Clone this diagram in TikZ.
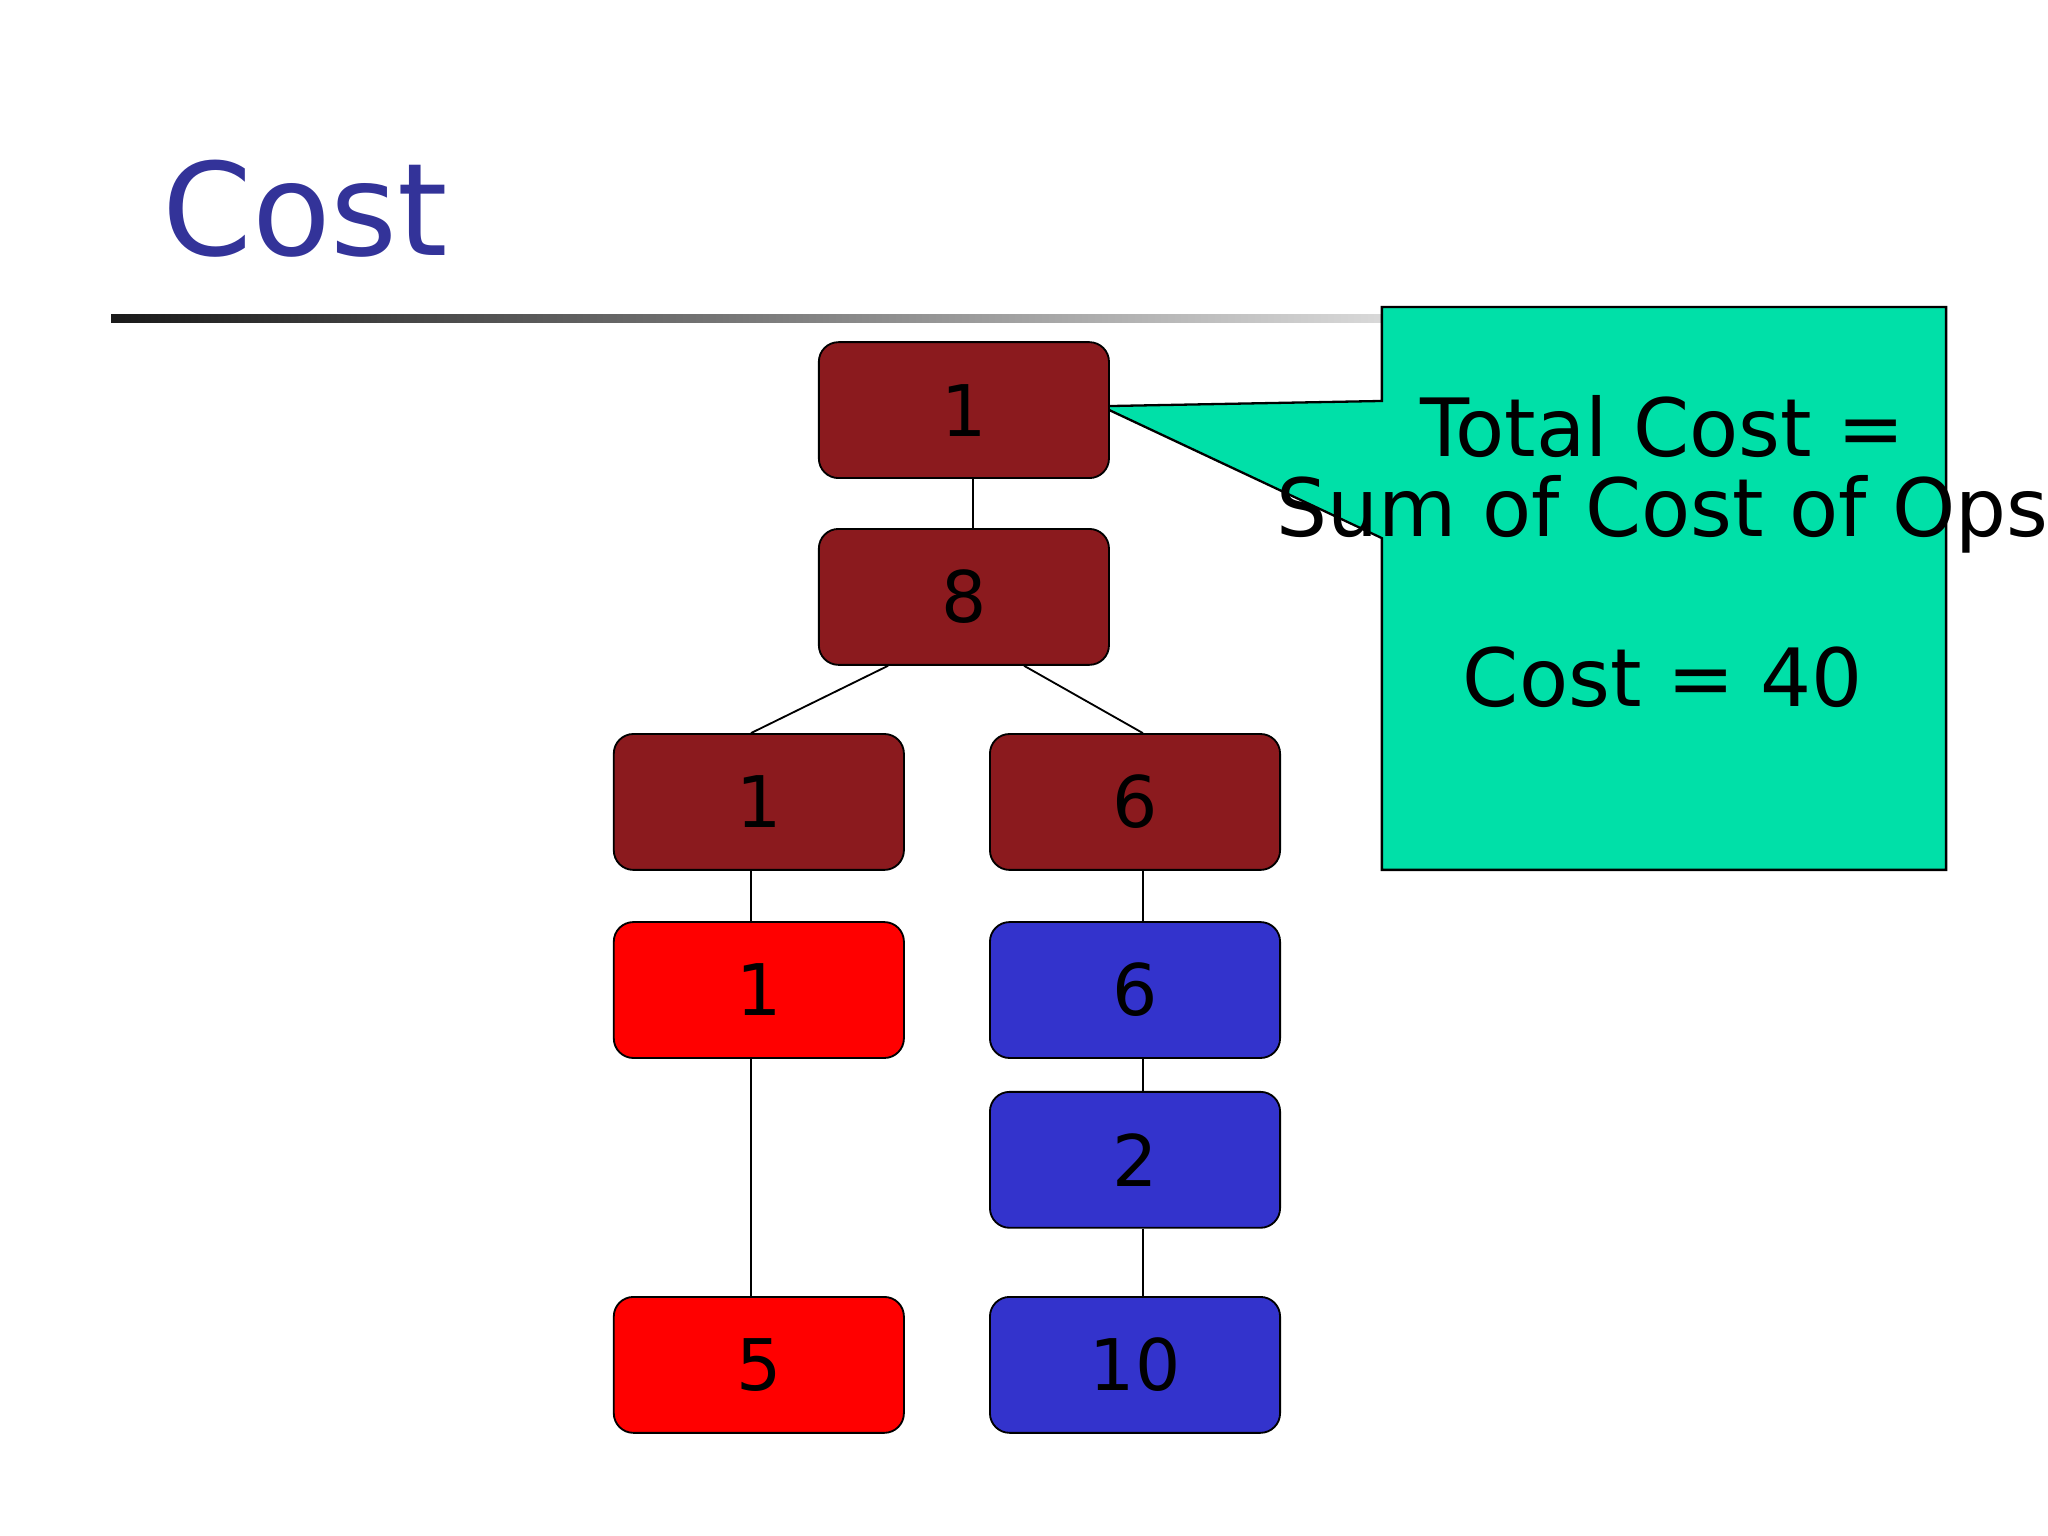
\documentclass[tikz,border=0pt]{standalone}
\usepackage{fontspec}
\setmainfont{DejaVu Sans}
\definecolor{maroon}{HTML}{8B1A1E}
\definecolor{bred}{HTML}{FF0000}
\definecolor{bblue}{HTML}{3333CC}
\definecolor{titleblue}{HTML}{333399}
\definecolor{callout}{HTML}{00E0A8}
\begin{document}
\begin{tikzpicture}[x=0.01cm,y=-0.01cm,
  box/.style={draw=black,rounded corners=0.15cm,minimum width=2.22cm,minimum height=1.04cm,inner sep=0pt,font=\fontsize{15.5}{18}\selectfont,text=black},
  mbox/.style={box,fill=maroon},
  rbox/.style={box,fill=bred},
  bbox/.style={box,fill=bblue},
  conn/.style={draw=black,line width=0.4pt}]
\useasboundingbox (0,0) rectangle (1568,1176);
\node[anchor=west,text=titleblue,font=\fontsize{28}{32}\selectfont] (title) at (112,160) {Cost};
\shade[left color=black!90,right color=white!85!black] (85,241) rectangle (1058,247);
% callout
\draw[fill=callout,draw=black,line width=0.5pt] (1058,235) -- (1490,235) -- (1490,666) -- (1058,666) -- (1058,412) -- (843,311) -- (1058,307) -- cycle;
\node[align=center,font=\fontsize{17.5}{17.6}\selectfont] (ctext) at (1273,422) {Total Cost =\\Sum of Cost of Ops\\[1.1em]Cost = 40};
% nodes
\node[mbox] (a) at (738,314) {1};
\node[mbox] (b) at (738,457) {8};
\node[mbox] (c) at (581,614) {1};
\node[mbox] (d) at (869,614) {6};
\node[rbox] (e) at (581,758) {1};
\node[bbox] (f) at (869,758) {6};
\node[bbox] (g) at (869,888) {2};
\node[rbox] (h) at (581,1045) {5};
\node[bbox] (i) at (869,1045) {10};
% connectors
\draw[conn] ([xshift=0.07cm]a.south) -- ([xshift=0.07cm]b.north);
\draw[conn] ([xshift=-0.58cm]b.south) -- ([xshift=-0.06cm]c.north);
\draw[conn] ([xshift=0.46cm]b.south) -- ([xshift=0.06cm]d.north);
\draw[conn] ([xshift=-0.06cm]c.south) -- ([xshift=-0.06cm]e.north);
\draw[conn] ([xshift=0.06cm]d.south) -- ([xshift=0.06cm]f.north);
\draw[conn] ([xshift=0.06cm]f.south) -- ([xshift=0.06cm]g.north);
\draw[conn] ([xshift=0.06cm]g.south) -- ([xshift=0.06cm]i.north);
\draw[conn] ([xshift=-0.06cm]e.south) -- ([xshift=-0.06cm]h.north);
\end{tikzpicture}
\end{document}
